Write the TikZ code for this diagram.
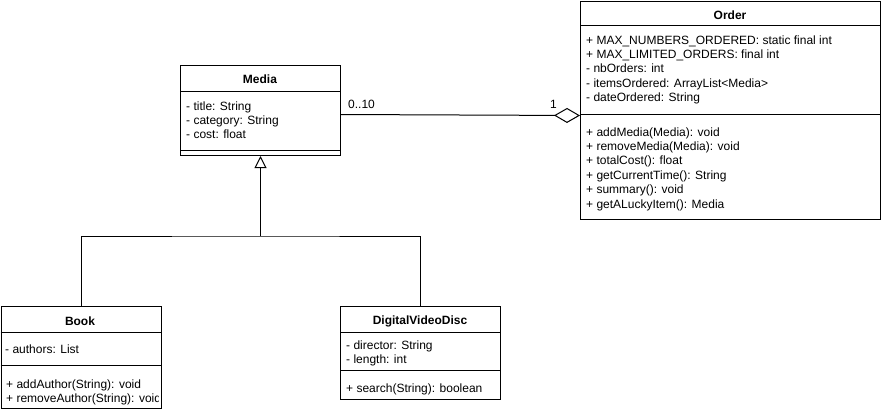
\documentclass[tikz,border=0pt]{standalone}
\usepackage{fontspec}
\setmainfont{Liberation Sans}
\usetikzlibrary{arrows.meta, calc, positioning}
\tikzset{
    classBox/.style={draw, rectangle, anchor=north west, inner sep=0pt, line width=1pt},
    classTitle/.style={anchor=base, font=\fontsize{12}{14.4}\selectfont\bfseries, inner sep=0pt},
    classText/.style={anchor=base west, align=left, inner sep=0pt},
    umlLink/.style={line width=1pt},
    umlAggr/.style={-{Diamond[open, length=26pt, width=15pt]}, line width=1pt},
    umlInherit/.style={-{Triangle[open, length=12pt, width=12pt]}, line width=1pt},
}
\newcommand{\drawSep}[2]{
    \draw[umlLink] (#1.west |- 0,#2) -- (#1.east |- 0,#2);
}
\begin{document}
\begin{tikzpicture}[x=1pt, y=-1pt, font=\fontsize{12}{14.4}\selectfont]
    \useasboundingbox (0,0) rectangle (881,413);

        % classes
        \node[classBox, minimum width=160pt, minimum height=90pt] (media) at (180,65) {};
        \node[classBox, minimum width=300pt, minimum height=218pt] (order) at (580,1) {};
        \node[classBox, minimum width=160pt, minimum height=102pt] (book) at (0.5,306) {};
        \node[classBox, minimum width=160pt, minimum height=93pt] (dvd) at (340,306) {};

        \drawSep{media}{91}
        \drawSep{media}{150}
        \drawSep{order}{25}
        \drawSep{order}{114}
        \drawSep{book}{332}
        \drawSep{book}{365}
        \drawSep{dvd}{332}
        \drawSep{dvd}{370}

        % Media (base = last line)
        \node[classTitle] (mediaName) at (260,83) {Media};
        \node[classText] (mediaAttr) at (186,138.8) {- title: String\\- category: String\\- cost: float};

        % Order
        \node[classTitle] (orderName) at (730,19) {Order};
        \node[classText] (orderAttr) at (586,101.6) {+ MAX\_NUMBERS\_ORDERED: static final int\\+ MAX\_LIMITED\_ORDERS: final int\\- nbOrders: int\\- itemsOrdered: ArrayList<Media>\\- dateOrdered: String};
        \node[classText] (orderOps) at (586,208) {+ addMedia(Media): void\\+ removeMedia(Media): void\\+ totalCost(): float\\+ getCurrentTime(): String\\+ summary(): void\\+ getALuckyItem(): Media};

        % Book
        \node[classTitle] (bookName) at (80,325) {Book};
        \node[classText] (bookAttr) at (5,353) {- authors: List};
        \begin{scope}
            \clip (book.north west) rectangle ($(book.south east)+(-3.5,0)$);
            \node[classText] (bookOps) at (6,402.4) {+ addAuthor(String): void\\+ removeAuthor(String): void};
        \end{scope}

        % DigitalVideoDisc
        \node[classTitle] (dvdName) at (420,324) {DigitalVideoDisc};
        \node[classText] (dvdAttr) at (346,363.4) {- director: String\\- length: int};
        \node[classText] (dvdOps) at (346,392) {+ search(String): boolean};

        % links
        \coordinate (assocA) at ($(media.east)+(0,4)$);
        \coordinate (assocB) at ($(order.west)+(0,5)$);
        \draw[umlAggr] (assocA) -- (assocB);
        \node[classText] (multA) at (348,108) {0..10};
        \node[anchor=base east, inner sep=0pt] (multB) at (557,108) {1};

        \coordinate (hub) at ($(media.south)+(0,80)$);
        \draw[umlInherit] (hub) -- (media.south);
        \draw[umlLink] (book.north) |- (hub) -| (dvd.north);

    \end{tikzpicture}
\end{document}
